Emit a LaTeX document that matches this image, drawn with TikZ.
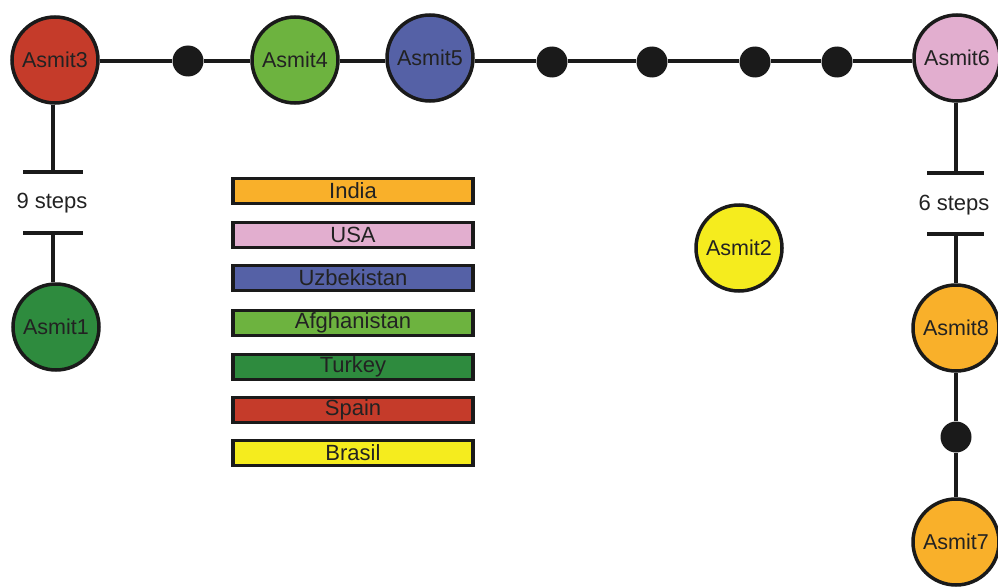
\documentclass[tikz,border=0pt]{standalone}
\usepackage{fontspec}
\setmainfont{Liberation Sans}
\definecolor{cRed}{HTML}{C53B2A}
\definecolor{cLime}{HTML}{6DB33F}
\definecolor{cBlue}{HTML}{5561A6}
\definecolor{cPink}{HTML}{E2AECF}
\definecolor{cGreen}{HTML}{2E8B3E}
\definecolor{cOrange}{HTML}{F9B02A}
\definecolor{cYellow}{HTML}{F5EC1E}
\definecolor{ink}{HTML}{1A1A1A}
\definecolor{txt}{HTML}{222222}
\begin{document}
\begin{tikzpicture}[x=1pt,y=-1pt,
  hap/.style={circle,draw=ink,line width=3.5pt,minimum size=86pt,inner sep=0pt,
    text=txt,font=\fontsize{21.5}{24}\selectfont},
  midnode/.style={circle,fill=ink,minimum size=31pt,inner sep=0pt},
  link/.style={draw=ink,line width=3.5pt},
  legendbox/.style={rectangle,draw=ink,line width=3.5pt,minimum width=240pt,
    minimum height=25pt,inner sep=0pt,text=txt,font=\fontsize{22}{24}\selectfont},
  steplabel/.style={text=txt,font=\fontsize{22}{24}\selectfont}]
\useasboundingbox (0,0) rectangle (998,586);

% top chain
\node[hap,fill=cRed] (a3) at (55,60) {Asmit3};
\node[midnode] (d1) at (188,61) {};
\node[hap,fill=cLime] (a4) at (295,60) {Asmit4};
\node[hap,fill=cBlue] (a5) at (430,58) {Asmit5};
\node[midnode] (d2) at (552,62) {};
\node[midnode] (d3) at (652,62) {};
\node[midnode] (d4) at (755,62) {};
\node[midnode] (d5) at (837,62) {};
\node[hap,fill=cPink] (a6) at (957,58) {Asmit6};
\coordinate (rail) at (0,61);

% left branch
\node[hap,fill=cGreen] (a1) at (56,327) {Asmit1};
\node[steplabel] (s9) at (52,203) {9 steps};
\coordinate (l1) at (53,172);
\coordinate (l2) at (53,233);

% right branch
\node[steplabel] (s6) at (954,205) {6 steps};
\coordinate (r1) at (956,173);
\coordinate (r2) at (956,234);
\node[hap,fill=cOrange] (a8) at (956,328) {Asmit8};
\node[midnode] (d6) at (956,437) {};
\node[hap,fill=cOrange] (a7) at (956,542) {Asmit7};

% isolated node
\node[hap,fill=cYellow] (a2) at (739,248) {Asmit2};

% connectors: horizontal rail through the top chain
\draw[link] (a3.east |- rail) -- (d1.west |- rail);
\draw[link] (d1.east |- rail) -- (a4.west |- rail);
\draw[link] (a4.east |- rail) -- (a5.west |- rail);
\draw[link] (a5.east |- rail) -- (d2.west |- rail);
\draw[link] (d2.east |- rail) -- (d3.west |- rail);
\draw[link] (d3.east |- rail) -- (d4.west |- rail);
\draw[link] (d4.east |- rail) -- (d5.west |- rail);
\draw[link] (d5.east |- rail) -- (a6.west |- rail);
% step gaps
\draw[link] (a3.south -| l1) -- (l1);
\draw[link] ([xshift=-30pt]l1) -- ([xshift=30pt]l1);
\draw[link] ([xshift=-30pt]l2) -- ([xshift=30pt]l2);
\draw[link] (l2) -- (a1.north -| l2);
\draw[link] (a6.south -| r1) -- (r1);
\draw[link] ([xshift=-29pt]r1) -- ([xshift=28pt]r1);
\draw[link] ([xshift=-29pt]r2) -- ([xshift=28pt]r2);
\draw[link] (r2) -- (a8.north -| r2);
\draw[link] (a8) -- (d6) -- (a7);

% legend
\node[legendbox,fill=cOrange] (lg1) at (353,191) {India};
\node[legendbox,fill=cPink] (lg2) at (353,235) {USA};
\node[legendbox,fill=cBlue] (lg3) at (353,278) {Uzbekistan};
\node[legendbox,fill=cLime] (lg4) at (353,323) {Afghanistan};
\node[legendbox,fill=cGreen] (lg5) at (353,367) {Turkey};
\node[legendbox,fill=cRed] (lg6) at (353,410) {Spain};
\node[legendbox,fill=cYellow] (lg7) at (353,453) {Brasil};
\end{tikzpicture}
\end{document}
